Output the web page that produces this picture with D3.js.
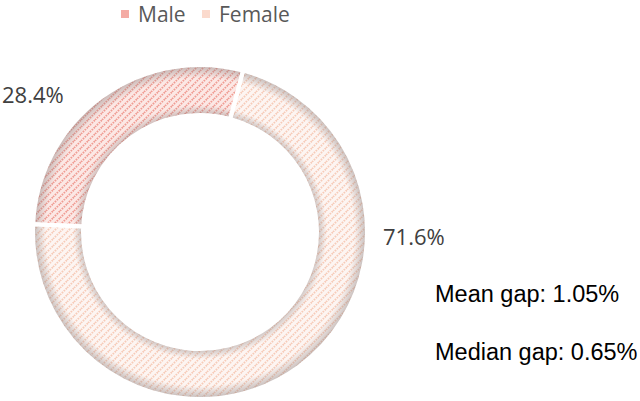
<!DOCTYPE html>
<html><head><meta charset="utf-8">
<script src="https://cdn.jsdelivr.net/npm/d3@7"></script>
<style>html,body{margin:0;padding:0;background:#fff;overflow:hidden}</style>
</head><body>
<svg id="c" width="640" height="401"></svg>
<script>
const categories = ["Male", "Female"];
const values = [28.4, 71.6];
const valueLabels = ["28.4%", "71.6%"];
const notes = ["Mean gap: 1.05%", "Median gap: 0.65%"];

const W = 640, H = 401;
const cx = 200, cy = 232, rOuter = 167, rInner = 117;
const baseColors = ["#fce8e5", "#fdf5f2"];
const lineColors = ["#f09c93", "#f7cbb8"];
const legendColors = ["#f4aba4", "#fbdacd"];

const svg = d3.select("#c");
const defs = svg.append("defs");

categories.forEach((c, i) => {
  const p = defs.append("pattern").attr("id", "pat" + i)
    .attr("patternUnits", "userSpaceOnUse").attr("width", 7).attr("height", 7);
  p.append("rect").attr("width", 7).attr("height", 7).attr("fill", baseColors[i]);
  [-7, 0, 7].forEach(ox => {
    p.append("line").attr("x1", ox).attr("y1", 7).attr("x2", ox + 7).attr("y2", 0)
      .attr("stroke", lineColors[i]).attr("stroke-width", 1.9)
      .attr("stroke-dasharray", "1.6,1.1");
  });
});

const rg = defs.append("radialGradient").attr("id", "shade")
  .attr("gradientUnits", "userSpaceOnUse").attr("cx", 0).attr("cy", 0).attr("r", rOuter);
[[rInner / rOuter, 0.45], [(rInner + 10) / rOuter, 0.0], [(rOuter - 13) / rOuter, 0.0], [1, 0.5]]
  .forEach(([o, a]) => rg.append("stop").attr("offset", o).attr("stop-color", "#8a7f7e").attr("stop-opacity", a));

const pie = d3.pie().sort(null).value(d => d)
  .startAngle(-87.3 * Math.PI / 180).endAngle((360 - 87.3) * Math.PI / 180);
const arcs = pie(values);
const arc = d3.arc().innerRadius(rInner).outerRadius(rOuter);

const g = svg.append("g").attr("transform", `translate(${cx},${cy})`);
g.selectAll("path.base").data(arcs).enter().append("path")
  .attr("class", "base").attr("d", arc).attr("fill", (d, i) => `url(#pat${i})`);
g.selectAll("path.shade").data(arcs).enter().append("path")
  .attr("class", "shade").attr("d", arc).attr("fill", "url(#shade)");
g.selectAll("path.edge").data(arcs).enter().append("path")
  .attr("class", "edge").attr("d", arc).attr("fill", "none")
  .attr("stroke", "#fff").attr("stroke-width", 4);

// data labels
const labelPos = [
  { x: -198, y: -129, anchor: "start" },
  { x: 183, y: 13, anchor: "start" }
];
g.selectAll("text.lbl").data(arcs).enter().append("text")
  .attr("class", "lbl")
  .attr("x", (d, i) => labelPos[i].x).attr("y", (d, i) => labelPos[i].y)
  .attr("text-anchor", (d, i) => labelPos[i].anchor)
  .attr("font-family", "Open Sans, sans-serif").attr("font-size", 22)
  .attr("fill", "#404040").text((d, i) => valueLabels[i]);

// legend
const legendX = [121, 202];
const lg = svg.append("g");
categories.forEach((c, i) => {
  lg.append("rect").attr("x", legendX[i]).attr("y", 10).attr("width", 8).attr("height", 8)
    .attr("fill", legendColors[i]);
  lg.append("text").attr("x", legendX[i] + 17).attr("y", 22)
    .attr("font-family", "Open Sans, sans-serif").attr("font-size", 21)
    .attr("fill", "#595959").text(c);
});

// notes
svg.selectAll("text.note").data(notes).enter().append("text")
  .attr("class", "note").attr("x", 435).attr("y", (d, i) => 302 + i * 58)
  .attr("font-family", "Liberation Sans, Arial, sans-serif").attr("font-size", 23.5)
  .attr("fill", "#000").text(d => d);
</script>
</body></html>
